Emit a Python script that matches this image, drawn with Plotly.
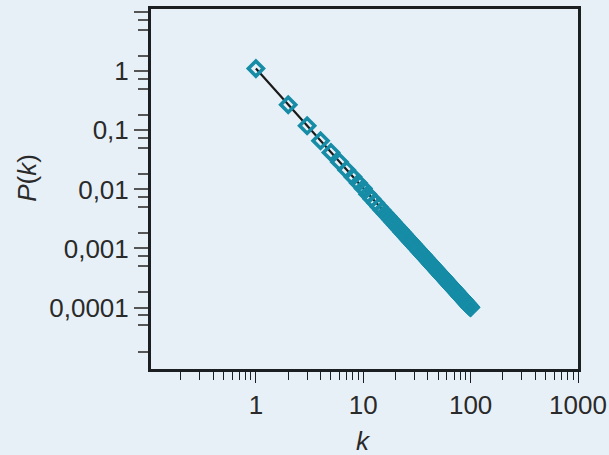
import plotly.graph_objects as go

# Degree k and probability P(k) of the degree distribution
k_values = [
    1, 2, 3, 4, 5, 6, 7, 8, 9, 10,
    11, 12, 13, 14, 15, 16, 17, 18, 19, 20,
    21, 22, 23, 24, 25, 26, 27, 28, 29, 30,
    31, 32, 33, 34, 35, 36, 37, 38, 39, 40,
    41, 42, 43, 44, 45, 46, 47, 48, 49, 50,
    51, 52, 53, 54, 55, 56, 57, 58, 59, 60,
    61, 62, 63, 64, 65, 66, 67, 68, 69, 70,
    71, 72, 73, 74, 75, 76, 77, 78, 79, 80,
    81, 82, 83, 84, 85, 86, 87, 88, 89, 90,
    91, 92, 93, 94, 95, 96, 97, 98, 99, 100,
]
p_values = [
    1.11, 0.272, 0.1193, 0.0666, 0.0423, 0.0292, 0.02137, 0.0163, 0.01283, 0.0104,
    0.00826, 0.00694, 0.00592, 0.0051, 0.00444, 0.00391, 0.00346, 0.00309, 0.00277, 0.0025,
    0.00227, 0.00207, 0.00189, 0.00174, 0.0016, 0.00148, 0.00137, 0.00128, 0.00119, 0.00111,
    0.00104, 0.000977, 0.000918, 0.000865, 0.000816, 0.000772, 0.00073, 0.000693, 0.000657, 0.000625,
    0.000595, 0.000567, 0.000541, 0.000517, 0.000494, 0.000473, 0.000453, 0.000434, 0.000416, 0.0004,
    0.000384, 0.00037, 0.000356, 0.000343, 0.000331, 0.000319, 0.000308, 0.000297, 0.000287, 0.000278,
    0.000269, 0.00026, 0.000252, 0.000244, 0.000237, 0.00023, 0.000223, 0.000216, 0.00021, 0.000204,
    0.000198, 0.000193, 0.000188, 0.000183, 0.000178, 0.000173, 0.000169, 0.000164, 0.00016, 0.000156,
    0.000152, 0.000149, 0.000145, 0.000142, 0.000138, 0.000135, 0.000132, 0.000129, 0.000126, 0.000123,
    0.000121, 0.000118, 0.000116, 0.000113, 0.000111, 0.000109, 0.000106, 0.000104, 0.000102, 0.0001,
]

# Axis ticks
x_major = [1, 10, 100, 1000]
x_major_labels = ["1", "10", "100", "1000"]
x_minor = [0.2, 0.3, 0.4, 0.5, 0.6, 0.7, 0.8, 0.9,
           2, 3, 4, 5, 6, 7, 8, 9,
           20, 30, 40, 50, 60, 70, 80, 90,
           200, 300, 400, 500, 600, 700, 800, 900]

y_major = [10, 1, 0.1, 0.01, 0.001, 0.0001]
y_major_labels = ["", "1", "0,1", "0,01", "0,001", "0,0001"]
y_minor = [7.5, 5,
           1.8, 0.75, 0.5,
           0.18, 0.075, 0.05,
           0.018, 0.0075, 0.005,
           0.0018, 0.00075, 0.0005,
           0.00018, 0.000075, 0.00005,
           0.000018]

BG = "#E8F0F7"
TEAL = "#168CA6"
FRAME = "#1C1F21"
TEXT = "#2A2A2A"
FONT = "Liberation Sans, Arial, Helvetica, sans-serif"

fig = go.Figure()
fig.add_trace(go.Scatter(
    x=k_values, y=p_values,
    mode="lines+markers",
    line=dict(color="#1A1A1A", width=2.2),
    marker=dict(symbol="diamond-open", size=11.5, color=TEAL,
                line=dict(color=TEAL, width=3.6)),
    showlegend=False,
    hoverinfo="x+y",
))

fig.update_layout(
    width=609, height=455,
    margin=dict(l=151, r=31, t=9, b=86),
    paper_bgcolor=BG, plot_bgcolor=BG,
    font=dict(family=FONT, size=26, color=TEXT),
    xaxis=dict(
        type="log", range=[-0.977, 3], automargin=False,
        showgrid=False, zeroline=False,
        showline=True, mirror=True, linewidth=3, linecolor=FRAME,
        tickmode="array", tickvals=x_major, ticktext=x_major_labels,
        ticks="outside", ticklen=11, tickwidth=1, tickcolor=FRAME,
        tickfont=dict(size=26, color=TEXT),
        minor=dict(tickmode="array", tickvals=x_minor, ticks="outside",
                   ticklen=8, tickwidth=1, tickcolor=FRAME, showgrid=False),
    ),
    yaxis=dict(
        type="log", range=[-5.041, 1.0545], automargin=False,
        showgrid=False, zeroline=False,
        showline=True, mirror=True, linewidth=3, linecolor=FRAME,
        tickmode="array", tickvals=y_major, ticktext=y_major_labels,
        ticks="outside", ticklen=14, tickwidth=1.5, tickcolor="#555555",
        tickfont=dict(size=26, color=TEXT),
        minor=dict(tickmode="array", tickvals=y_minor, ticks="outside",
                   ticklen=10, tickwidth=1.5, tickcolor="#555555", showgrid=False),
    ),
    annotations=[
        dict(text="<i>P</i>(<i>k</i>)", xref="paper", yref="paper",
             x=-0.289, y=0.53, xanchor="center", yanchor="middle",
             textangle=-90, showarrow=False,
             font=dict(family=FONT, size=26, color=TEXT)),
        dict(text="<i>k</i>", xref="paper", yref="paper",
             x=0.497, y=-0.2, xanchor="center", yanchor="middle",
             showarrow=False,
             font=dict(family=FONT, size=26, color=TEXT)),
    ],
)

fig.write_html("out.html")
